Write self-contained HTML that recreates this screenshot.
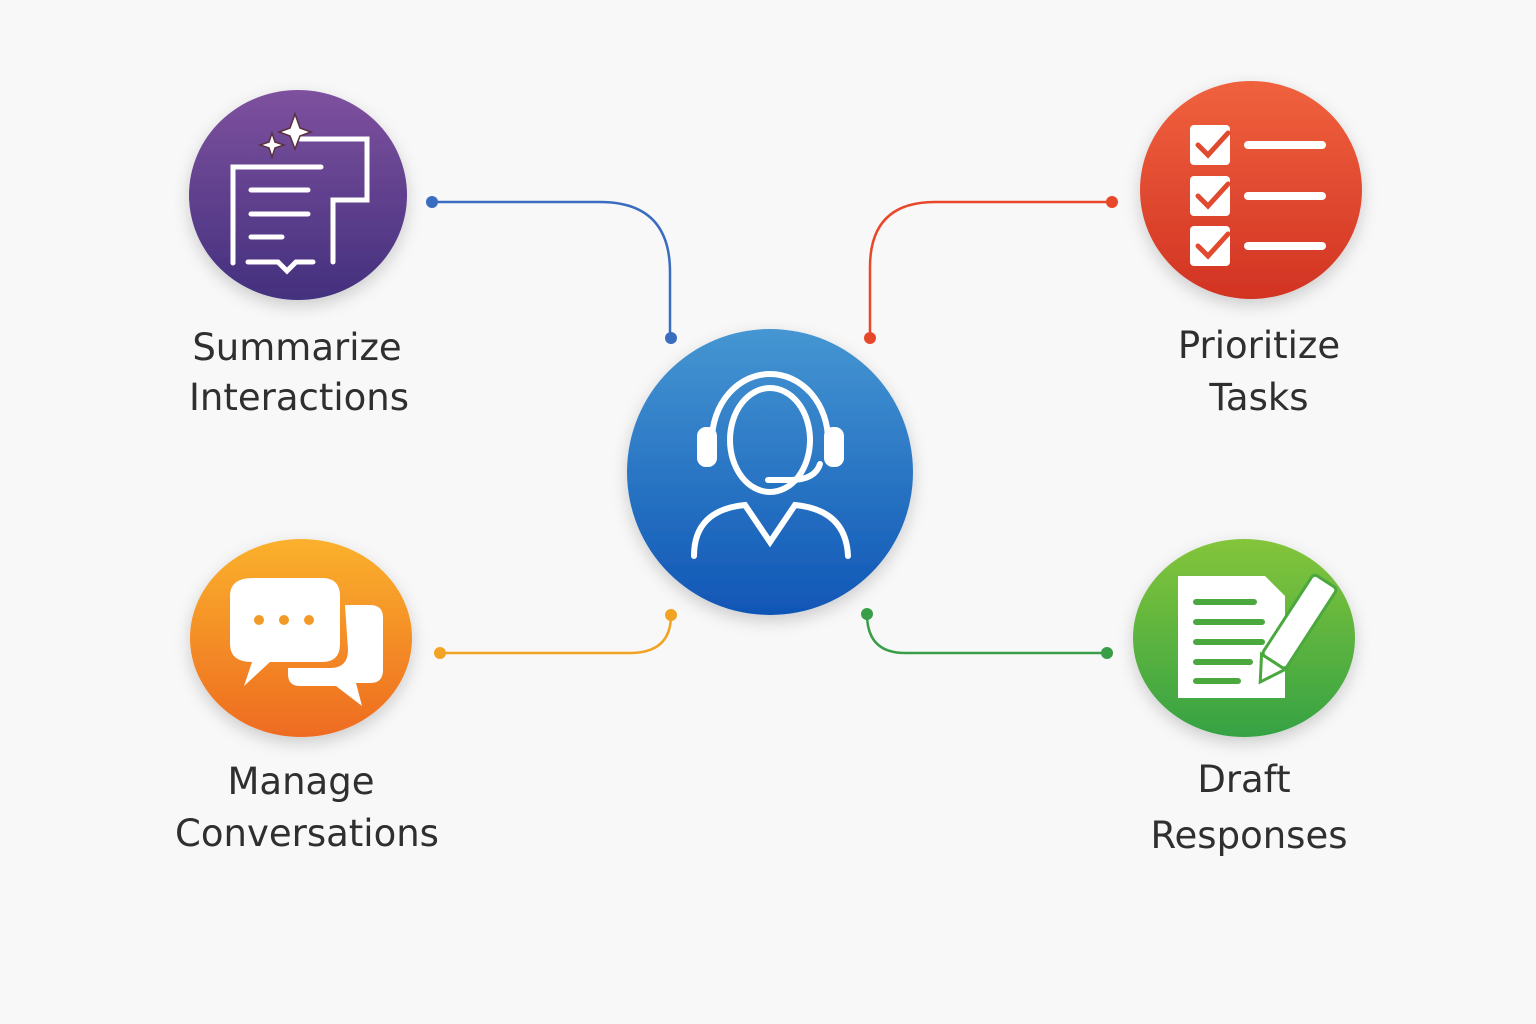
<!DOCTYPE html>
<html><head><meta charset="utf-8"><style>
html,body{margin:0;padding:0;background:#f8f8f8;}
svg{display:block}
text{font-family:"DejaVu Sans","Liberation Sans",sans-serif;fill:#2f2f2f;font-size:37px;text-anchor:middle}
</style></head><body>
<svg width="1536" height="1024" viewBox="0 0 1536 1024">
<defs>
<linearGradient id="gb" x1="0" y1="0" x2="0" y2="1"><stop offset="0" stop-color="#4596d2"/><stop offset="1" stop-color="#1056b6"/></linearGradient>
<linearGradient id="gp" x1="0" y1="0" x2="0" y2="1"><stop offset="0" stop-color="#7e519e"/><stop offset="1" stop-color="#43307e"/></linearGradient>
<linearGradient id="gr" x1="0" y1="0" x2="0" y2="1"><stop offset="0" stop-color="#f0623e"/><stop offset="1" stop-color="#d23323"/></linearGradient>
<linearGradient id="go" x1="0" y1="0" x2="0" y2="1"><stop offset="0" stop-color="#fab12d"/><stop offset="1" stop-color="#ee6b20"/></linearGradient>
<linearGradient id="gg" x1="0" y1="0" x2="0" y2="1"><stop offset="0" stop-color="#84c53a"/><stop offset="1" stop-color="#35a244"/></linearGradient>
<filter id="sh" x="-20%" y="-20%" width="140%" height="150%"><feDropShadow dx="0" dy="6" stdDeviation="8" flood-opacity="0.18"/></filter>
</defs>
<!-- connectors -->
<g fill="none" stroke-width="2.5">
<path d="M432 202 H600 Q670 202 670 272 V338" stroke="#3a6cc0"/>
<path d="M1112 202 H935 Q870 202 870 267 V338" stroke="#e8482a"/>
<path d="M440 653 H630 Q671 653 671 615" stroke="#f2a323"/>
<path d="M1107 653 H905 Q867 653 867 614" stroke="#3a9e48"/>
</g>
<g>
<circle cx="432" cy="202" r="6" fill="#3a6cc0"/><circle cx="671" cy="338" r="6" fill="#3a6cc0"/>
<circle cx="1112" cy="202" r="6" fill="#e8482a"/><circle cx="870" cy="338" r="6" fill="#e8482a"/>
<circle cx="440" cy="653" r="6" fill="#f2a323"/><circle cx="671" cy="615" r="6" fill="#f2a323"/>
<circle cx="1107" cy="653" r="6" fill="#3a9e48"/><circle cx="867" cy="614" r="6" fill="#3a9e48"/>
</g>
<!-- circles -->
<circle cx="770" cy="472" r="143" fill="url(#gb)" filter="url(#sh)"/>
<ellipse cx="298" cy="195" rx="109" ry="105" fill="url(#gp)" filter="url(#sh)"/>
<ellipse cx="1251" cy="190" rx="111" ry="109" fill="url(#gr)" filter="url(#sh)"/>
<ellipse cx="301" cy="638" rx="111" ry="99" fill="url(#go)" filter="url(#sh)"/>
<ellipse cx="1244" cy="638" rx="111" ry="99" fill="url(#gg)" filter="url(#sh)"/>
<!-- center icon -->
<g fill="none" stroke="#fff" stroke-width="6" stroke-linecap="round">
<ellipse cx="770" cy="440" rx="40" ry="52"/>
<path d="M712 440 A58 66 0 0 1 828 440"/>
<rect x="700" y="430" width="14" height="34" rx="6" fill="#fff"/>
<rect x="827" y="430" width="14" height="34" rx="6" fill="#fff"/>
<path d="M820 464 Q815 480 790 480 H768"/>
<path d="M694 556 Q694 510 745 505 L770 542 L795 505 Q846 510 848 556"/>
</g>
<!-- purple icon -->
<g fill="none" stroke="#fff" stroke-width="5" stroke-linecap="round">
<path d="M300 139 H367 V200 H333 V262"/>
<path d="M233 263 V167 H321"/>
<path d="M251 190 H308 M251 214 H308 M251 237 H282"/>
<path d="M248 262 H278 L287 271 L296 262 H313"/>
</g>
<path d="M295 114 L300 128 L311 132 L300 136 L295 149 L290 136 L279 132 L290 128Z M272 133 L275 142 L284 145 L275 148 L272 157 L269 148 L260 145 L269 142Z" fill="#fff" stroke="#5a3040" stroke-width="1.5"/>
<!-- red icon -->
<g>
<rect x="1190" y="125" width="40" height="40" rx="4" fill="#fff"/>
<rect x="1190" y="176" width="40" height="40" rx="4" fill="#fff"/>
<rect x="1190" y="226" width="40" height="40" rx="4" fill="#fff"/>
<g fill="none" stroke="#e04a2e" stroke-width="5" stroke-linecap="round"><path d="M1198 145 L1208 155 L1228 133 M1198 196 L1208 206 L1228 184 M1198 246 L1208 256 L1228 234"/></g>
<g stroke="#fff" stroke-width="8" stroke-linecap="round"><path d="M1248 145 H1322 M1248 196 H1322 M1248 246 H1322"/></g>
</g>
<!-- orange icon -->
<path d="M253 578 H322 Q340 578 340 596 V644 Q340 662 322 662 H270 L244 686 L252 662 Q230 662 230 644 V596 Q230 578 253 578Z" fill="#fff"/>
<path d="M345 605 H370 Q383 605 383 618 V670 Q383 683 370 683 H356 L362 706 L336 686 H300 Q288 686 288 674 L288 668 H330 Q348 668 348 650 Z" fill="#fff"/>
<g fill="#f29a27"><circle cx="259" cy="620" r="5"/><circle cx="284" cy="620" r="5"/><circle cx="309" cy="620" r="5"/></g>
<!-- green icon -->
<path d="M1178 576 H1265 L1285 596 V698 H1178Z" fill="#fff"/>
<g stroke="#4aa83e" stroke-width="6" stroke-linecap="round"><path d="M1196 602 H1254 M1196 622 H1262 M1196 642 H1262 M1196 662 H1250 M1196 681 H1238"/></g>
<g transform="rotate(33 1294 630)"><rect x="1280" y="572" width="28" height="96" rx="4" fill="#fff" stroke="#4aa83e" stroke-width="3"/><path d="M1280 668 L1294 692 L1308 668Z" fill="#fff" stroke="#4aa83e" stroke-width="3"/></g>
<!-- labels -->
<text x="297" y="360">Summarize</text>
<text x="299" y="410">Interactions</text>
<text x="1259" y="358">Prioritize</text>
<text x="1259" y="410">Tasks</text>
<text x="301" y="794">Manage</text>
<text x="307" y="846">Conversations</text>
<text x="1244" y="792">Draft</text>
<text x="1249" y="848">Responses</text>
</svg>
</body></html>
